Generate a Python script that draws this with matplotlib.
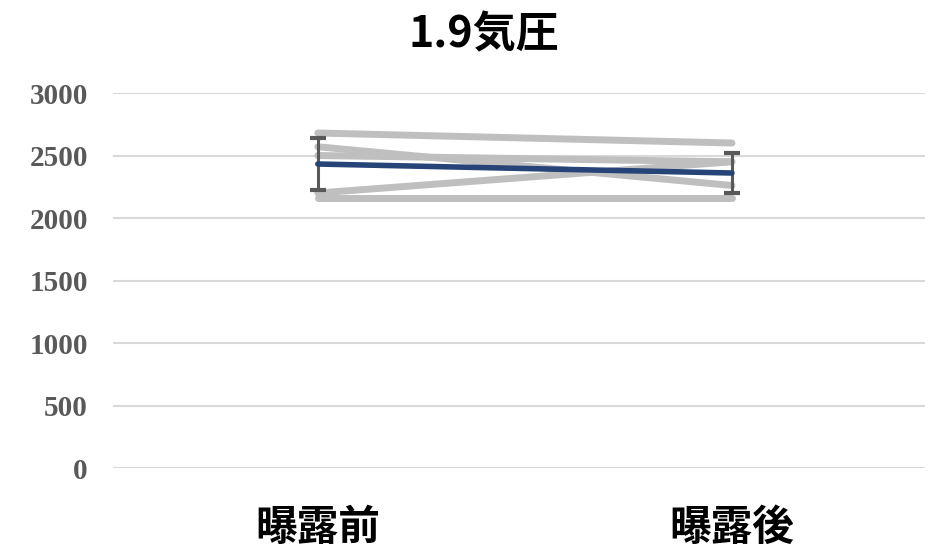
import numpy as np
import matplotlib
matplotlib.use("Agg")
import matplotlib.pyplot as plt

# ---- data ----
categories = ["曝露前", "曝露後"]
subjects = [
    [2680, 2600],
    [2570, 2260],
    [2500, 2450],
    [2200, 2450],
    [2160, 2160],
]
mean_vals = [2432, 2360]
err_vals = [210, 163]
yticks = [0, 500, 1000, 1500, 2000, 2500, 3000]
title = "1.9気圧"

cjk = ["Noto Sans CJK JP", "DejaVu Sans"]

fig = plt.figure(figsize=(9.4, 5.53), dpi=100)
ax = fig.add_axes([0.120, 0.1537, 0.864, 0.6781])

x = np.arange(len(categories))
for s in subjects:
    ax.plot(x, s, color="#bfbfbf", lw=5.0, solid_capstyle="round", zorder=2)

ax.errorbar(x, mean_vals, yerr=err_vals, fmt="none", ecolor="#595959",
            elinewidth=2.2, capsize=6, capthick=3, zorder=3)
ax.plot(x, mean_vals, color="#264478", lw=4.0, solid_capstyle="round", zorder=4)

ax.set_ylim(0, 3000)
ax.set_xlim(-0.495, 1.466)
ax.set_yticks(yticks)
ax.set_yticklabels([str(v) for v in yticks], family="Liberation Serif",
                   fontweight="bold", fontsize=21, color="#595959")
ax.set_xticks(x)
ax.set_xticklabels(categories, family=cjk, fontweight="bold", fontsize=30, color="black")
ax.tick_params(axis="y", length=0, pad=18)
ax.tick_params(axis="x", length=0, pad=28)
ax.grid(axis="y", color="#d9d9d9", lw=1.5, zorder=0)
ax.set_axisbelow(True)
for sp in ax.spines.values():
    sp.set_visible(False)

fig.text(0.515, 0.937, title, ha="center", va="center", family=cjk,
         fontweight="bold", fontsize=31)

plt.savefig("out.png", dpi=100)
